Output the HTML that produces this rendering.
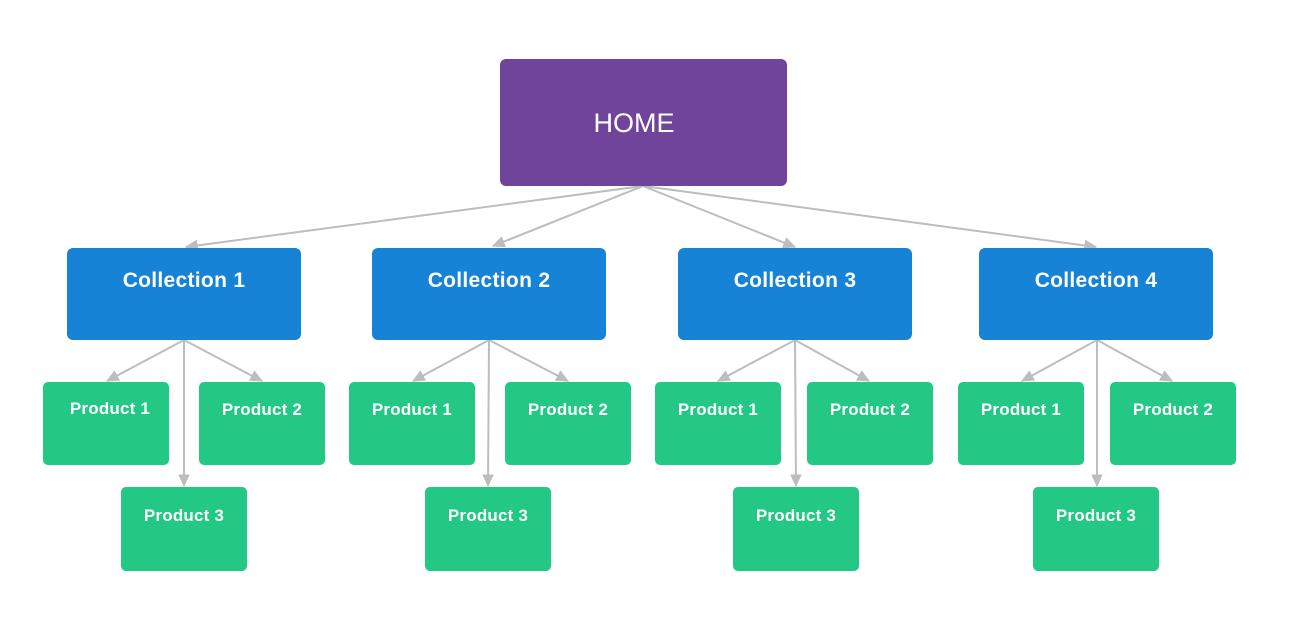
<!DOCTYPE html>
<html><head><meta charset="utf-8"><style>
html,body{margin:0;padding:0;background:#fff;}
svg{display:block}
.t{font-family:"Liberation Sans",sans-serif;fill:#fff;text-anchor:middle}
.c{font-weight:bold;font-size:21px;letter-spacing:0.3px}
.p{font-weight:bold;font-size:17px;letter-spacing:0.2px}
.l{stroke:#bdbdbd;stroke-width:2;fill:none}
</style></head><body>
<svg width="1308" height="626" viewBox="0 0 1308 626" xmlns="http://www.w3.org/2000/svg">
<defs>
<marker id="a" viewBox="0 0 10 10" refX="9" refY="5" markerWidth="13" markerHeight="13" orient="auto" markerUnits="userSpaceOnUse">
<path d="M0,0.5 L10,5 L0,9.5 z" fill="#bdbdbd"/></marker>
</defs>
<line class="l" x1="643" y1="186" x2="186" y2="247" marker-end="url(#a)"/>
<line class="l" x1="643" y1="186" x2="493" y2="246" marker-end="url(#a)"/>
<line class="l" x1="643" y1="186" x2="795" y2="247" marker-end="url(#a)"/>
<line class="l" x1="643" y1="186" x2="1096" y2="247" marker-end="url(#a)"/>
<line class="l" x1="184" y1="340" x2="107" y2="381" marker-end="url(#a)"/>
<line class="l" x1="184" y1="340" x2="262" y2="381" marker-end="url(#a)"/>
<line class="l" x1="184" y1="340" x2="184" y2="486" marker-end="url(#a)"/>
<line class="l" x1="489" y1="340" x2="413" y2="381" marker-end="url(#a)"/>
<line class="l" x1="489" y1="340" x2="568" y2="381" marker-end="url(#a)"/>
<line class="l" x1="489" y1="340" x2="488" y2="486" marker-end="url(#a)"/>
<line class="l" x1="795" y1="340" x2="718" y2="381" marker-end="url(#a)"/>
<line class="l" x1="795" y1="340" x2="869" y2="381" marker-end="url(#a)"/>
<line class="l" x1="795" y1="340" x2="796" y2="486" marker-end="url(#a)"/>
<line class="l" x1="1097" y1="340" x2="1022" y2="381" marker-end="url(#a)"/>
<line class="l" x1="1097" y1="340" x2="1172" y2="381" marker-end="url(#a)"/>
<line class="l" x1="1097" y1="340" x2="1097" y2="486" marker-end="url(#a)"/>
<rect x="500" y="59" width="287" height="127" rx="6" fill="#71449b"/>
<text class="t" x="634" y="132" font-size="27">HOME</text>
<g fill="#1783d6">
<rect x="67" y="248" width="234" height="92" rx="6"/>
<rect x="372" y="248" width="234" height="92" rx="6"/>
<rect x="678" y="248" width="234" height="92" rx="6"/>
<rect x="979" y="248" width="234" height="92" rx="6"/>
</g>
<text class="t c" x="184" y="287">Collection 1</text>
<text class="t c" x="489" y="287">Collection 2</text>
<text class="t c" x="795" y="287">Collection 3</text>
<text class="t c" x="1096" y="287">Collection 4</text>
<g fill="#22c883">
<rect x="43" y="382" width="126" height="83" rx="5"/>
<rect x="199" y="382" width="126" height="83" rx="5"/>
<rect x="121" y="487" width="126" height="84" rx="5"/>
<rect x="349" y="382" width="126" height="83" rx="5"/>
<rect x="505" y="382" width="126" height="83" rx="5"/>
<rect x="425" y="487" width="126" height="84" rx="5"/>
<rect x="655" y="382" width="126" height="83" rx="5"/>
<rect x="807" y="382" width="126" height="83" rx="5"/>
<rect x="733" y="487" width="126" height="84" rx="5"/>
<rect x="958" y="382" width="126" height="83" rx="5"/>
<rect x="1110" y="382" width="126" height="83" rx="5"/>
<rect x="1033" y="487" width="126" height="84" rx="5"/>
</g>
<g class="t p">
<text x="110" y="414">Product 1</text>
<text x="262" y="415">Product 2</text>
<text x="184" y="521">Product 3</text>
<text x="412" y="415">Product 1</text>
<text x="568" y="415">Product 2</text>
<text x="488" y="521">Product 3</text>
<text x="718" y="415">Product 1</text>
<text x="870" y="415">Product 2</text>
<text x="796" y="521">Product 3</text>
<text x="1021" y="415">Product 1</text>
<text x="1173" y="415">Product 2</text>
<text x="1096" y="521">Product 3</text>
</g>
</svg>
</body></html>
